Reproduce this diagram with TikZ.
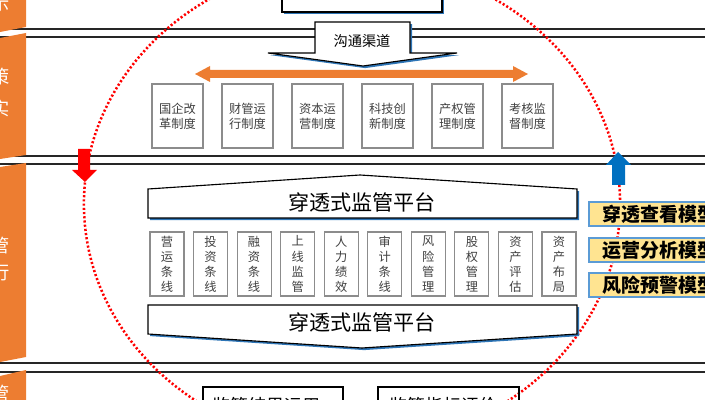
\documentclass[tikz,border=0pt]{standalone}
\usepackage{fontspec}
\setmainfont{Noto Sans CJK SC}
\usepackage{xcolor}
\usepackage{tikz}
\usetikzlibrary{positioning,calc}
\definecolor{taborange}{RGB}{237, 125, 49}
\definecolor{shadowblue}{RGB}{46, 117, 182}
\definecolor{linecharcoal}{RGB}{38, 38, 38}
\definecolor{boxgray}{RGB}{140, 140, 140}
\definecolor{textgray}{RGB}{64, 64, 64}
\definecolor{modelyellow}{RGB}{255, 228, 145}
\definecolor{modelblue}{RGB}{91, 155, 213}
\definecolor{uparrowblue}{RGB}{0, 112, 192}

\begin{document}
\begin{tikzpicture}[
  x=0.025cm, y=-0.025cm,
  bandline/.style={draw=linecharcoal, line width=0.75pt},
  tabshape/.style={fill=taborange},
  tabtext/.style={text=white, inner sep=0pt, font=\fontsize{13}{15}\selectfont},
  plate/.style={draw=black, fill=white, line width=0.8pt, preaction={fill=shadowblue, transform canvas={xshift=1.5pt, yshift=-1.5pt}}},
  platetext/.style={inner sep=0pt, font=\fontsize{15}{18}\selectfont},
  rulebox/.style={rectangle, draw=boxgray, fill=white, line width=0.8pt, minimum width=1.275cm, minimum height=1.6cm, inner sep=0pt, align=center, text=textgray, font=\fontsize{8.7}{10.7}\selectfont},
  linebox/.style={rulebox, minimum width=0.85cm},
  modelbox/.style={rectangle, draw=modelblue, fill=modelyellow, line width=1.3pt, anchor=west, minimum height=0.6cm, inner xsep=0.35cm, inner ysep=0pt, text width=3.4cm, align=left, font=\fontsize{13.5}{15}\selectfont\bfseries},
  resulttext/.style={inner sep=0pt, anchor=north west, font=\fontsize{12.8}{15}\selectfont},
  dotring/.style={draw=red, line width=1.8pt, dash pattern=on 1.5pt off 1.5pt}
]
\useasboundingbox (0,0) rectangle (705,400);
\clip (0,0) rectangle (705,400);

% Double band lines
\draw[bandline] (0,29) -- (705,29);
\draw[bandline] (0,37) -- (705,37);
\draw[bandline] (0,156) -- (705,156);
\draw[bandline] (0,164) -- (705,164);
\draw[bandline] (0,363) -- (705,363);
\draw[bandline] (0,372) -- (705,372);

% Orange side tabs
\fill[tabshape] (0,-5) -- (26,-5) -- (26,27) -- (0,32) -- cycle;
\fill[tabshape] (0,38) -- (26,33) -- (26,155) -- (0,159) -- cycle;
\fill[tabshape] (0,167) -- (26,163) -- (26,357) -- (0,362) -- cycle;
\fill[tabshape] (0,376) -- (26,370) -- (26,405) -- (0,405) -- cycle;
\node[tabtext] (tabA) at (1,4) {示};
\node[tabtext] (tabB1) at (1,77) {策};
\node[tabtext] (tabB2) at (1,108) {实};
\node[tabtext] (tabC1) at (1,246) {管};
\node[tabtext] (tabC2) at (1,273) {行};
\node[tabtext] (tabD) at (1,394) {管};

% Red dotted scope ring
\draw[dotring] (352,204) ellipse [x radius=6.7cm, y radius=6.05cm];

% Top box (cut off)
\draw[plate] (282,-10) rectangle (442,12);

% Channel callout
\draw[plate] (315,22) -- (410,22) -- (410,53) -- (457,53) -- (363,66) -- (268,53) -- (315,53) -- cycle;
\node[inner sep=0pt, font=\fontsize{10.1}{12}\selectfont] (channel) at (362,41) {沟通渠道};

% Orange two-way arrow
\fill[taborange] (195,74) -- (210,66) -- (210,70) -- (513,70) -- (513,66) -- (528,74) -- (513,82) -- (513,78) -- (210,78) -- (210,82) -- cycle;

% Rule boxes
\node[rulebox] (rule1) at (177.5,116) {国企改\\革制度};
\node[rulebox] (rule2) at (247.5,116) {财管运\\行制度};
\node[rulebox] (rule3) at (317.5,116) {资本运\\营制度};
\node[rulebox] (rule4) at (387.5,116) {科技创\\新制度};
\node[rulebox] (rule5) at (457.5,116) {产权管\\理制度};
\node[rulebox] (rule6) at (527.5,116) {考核监\\督制度};

% Platform top and bottom
\draw[plate] (148,189) -- (360,175) -- (577,189) -- (577,218) -- (148,218) -- cycle;
\node[platetext] (platTop) at (362,202) {穿透式监管平台};
\draw[plate] (148,305) -- (577,305) -- (577,334) -- (362,348) -- (148,334) -- cycle;
\node[platetext] (platBot) at (362,322) {穿透式监管平台};

% Business line boxes
\node[linebox] (line1) at (167,264) {营\\运\\条\\线};
\node[linebox] (line2) at (210.6,264) {投\\资\\条\\线};
\node[linebox] (line3) at (254.1,264) {融\\资\\条\\线};
\node[linebox] (line4) at (297.7,264) {上\\线\\监\\管};
\node[linebox] (line5) at (341.2,264) {人\\力\\绩\\效};
\node[linebox] (line6) at (384.8,264) {审\\计\\条\\线};
\node[linebox] (line7) at (428.3,264) {风\\险\\管\\理};
\node[linebox] (line8) at (471.9,264) {股\\权\\管\\理};
\node[linebox] (line9) at (515.4,264) {资\\产\\评\\估};
\node[linebox] (line10) at (559,264) {资\\产\\布\\局};

% Down and up block arrows
\fill[red] (78,149) -- (90,149) -- (90,170) -- (97,170) -- (85,182) -- (72,170) -- (78,170) -- cycle;
\fill[uparrowblue] (612,185) -- (625,185) -- (625,165) -- (631,165) -- (618,152) -- (606,165) -- (612,165) -- cycle;

% Model boxes
\node[modelbox] (model1) at (588,214) {穿透查看模型};
\node[modelbox] (model2) at (588,250) {运营分析模型};
\node[modelbox] (model3) at (588,285) {风险预警模型};

% Bottom result boxes (cut off)
\draw[draw=black, line width=0.8pt] (203,387) rectangle (343,420);
\node[resulttext] (result1) at (212,397) {监管结果运用};
\draw[draw=black, line width=0.8pt] (378,387) rectangle (519,420);
\node[resulttext] (result2) at (389,397) {监管指标评价};

\end{tikzpicture}
\end{document}
